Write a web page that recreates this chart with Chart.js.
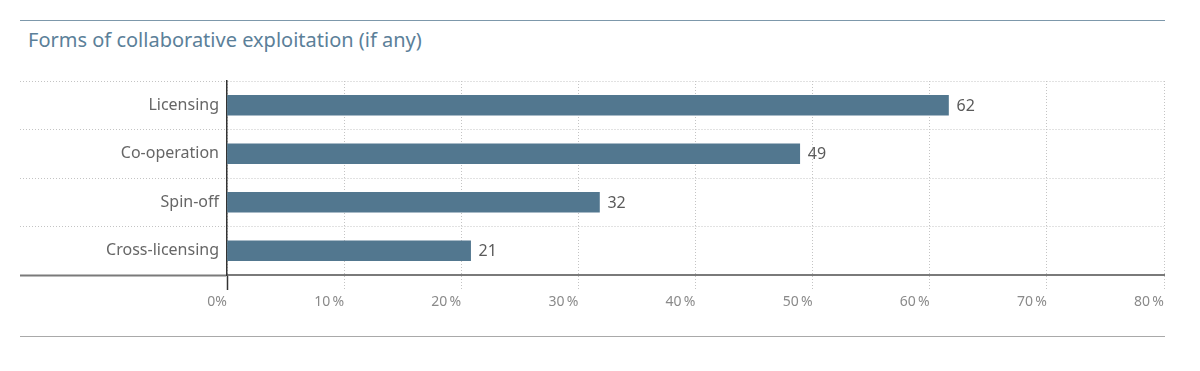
<!DOCTYPE html>
<html>
<head>
<meta charset="utf-8">
<script src="https://cdn.jsdelivr.net/npm/chart.js@4/dist/chart.umd.min.js"></script>
<style>
  html, body { margin: 0; padding: 0; background: #fff; }
  #wrap { position: relative; width: 1200px; height: 371px; overflow: hidden; }
  #chart { position: absolute; left: 0; top: 0; }
  .rule { position: absolute; left: 20px; width: 1145px; height: 0; }
  #topRule { top: 20px; border-top: 1px solid #7d98ab; }
  #bottomRule { top: 336px; border-top: 1px solid #a9a9a9; }
  #title {
    position: absolute; left: 28px; top: 26px;
    font-family: "Noto Sans", sans-serif; font-size: 20px;
    color: #5b8099; white-space: nowrap;
  }
</style>
</head>
<body>
<div id="wrap">
  <div class="rule" id="topRule"></div>
  <div id="title">Forms of collaborative exploitation (if any)</div>
  <canvas id="chart" width="1200" height="371"></canvas>
  <div class="rule" id="bottomRule"></div>
</div>
<script>
// chart data
const categories = ["Licensing", "Co-operation", "Spin-off", "Cross-licensing"];
const shares = [61.6, 48.9, 31.8, 20.8];
const tickLabels = ["0%", "10\u2009%", "20\u2009%", "30\u2009%", "40\u2009%", "50\u2009%", "60\u2009%", "70\u2009%", "80\u2009%"];

// draws the value next to each bar
const valueLabels = {
  id: "valueLabels",
  afterDatasetsDraw(chart) {
    const ctx = chart.ctx;
    const meta = chart.getDatasetMeta(0);
    ctx.save();
    ctx.font = '16px "Noto Sans", sans-serif';
    ctx.fillStyle = "#5a5a5a";
    ctx.textAlign = "left";
    ctx.textBaseline = "middle";
    meta.data.forEach((bar, i) => {
      ctx.fillText(Math.round(shares[i]), bar.x + 8, bar.y + 1);
    });
    ctx.restore();
  },
};

// the extra offset grid line (bottom) has no tick context
const isBottomLine = (c) => c.type !== "tick";

const ctx = document.getElementById("chart").getContext("2d");

new Chart(ctx, {
  type: "bar",
  data: {
    labels: categories,
    datasets: [
      {
        data: shares,
        backgroundColor: "#52778f",
        barThickness: 20,
      },
    ],
  },
  options: {
    indexAxis: "y",
    responsive: false,
    animation: false,
    layout: { padding: { left: 20, right: 36, top: 81, bottom: 56 } },
    plugins: {
      legend: { display: false },
      tooltip: { enabled: false },
    },
    scales: {
      x: {
        min: 0,
        max: 80,
        ticks: {
          stepSize: 10,
          align: "end",
          padding: 4,
          color: "#8a8a8a",
          font: { family: "Noto Sans", size: 14 },
          callback: (value, index) => tickLabels[index],
        },
        grid: {
          color: "#c4c4c4",
          tickLength: 15,
          tickColor: (c) => (c.index === 0 ? "#333" : "#c4c4c4"),
          tickWidth: (c) => (c.index === 0 ? 1.5 : 1),
          tickBorderDash: (c) => (c.index === 0 ? [] : [1, 2]),
        },
        border: { display: true, color: "#7a7a7a", width: 2, dash: [1, 2] },
        afterFit: (scale) => {
          scale.height = 40;
        },
      },
      y: {
        ticks: {
          padding: -199,
          color: "#666",
          font: { family: "Noto Sans", size: 16 },
        },
        grid: {
          offset: true,
          color: "#c4c4c4",
          tickLength: 207,
          tickColor: (c) => (isBottomLine(c) ? "#7a7a7a" : "#c4c4c4"),
          tickWidth: (c) => (isBottomLine(c) ? 2 : 1),
          tickBorderDash: (c) => (isBottomLine(c) ? [] : [1, 2]),
        },
        border: { display: true, color: "#333", width: 1.5, dash: [1, 2] },
        afterFit: (scale) => {
          scale.width = 207;
        },
      },
    },
  },
  plugins: [valueLabels],
});
</script>
</body>
</html>
